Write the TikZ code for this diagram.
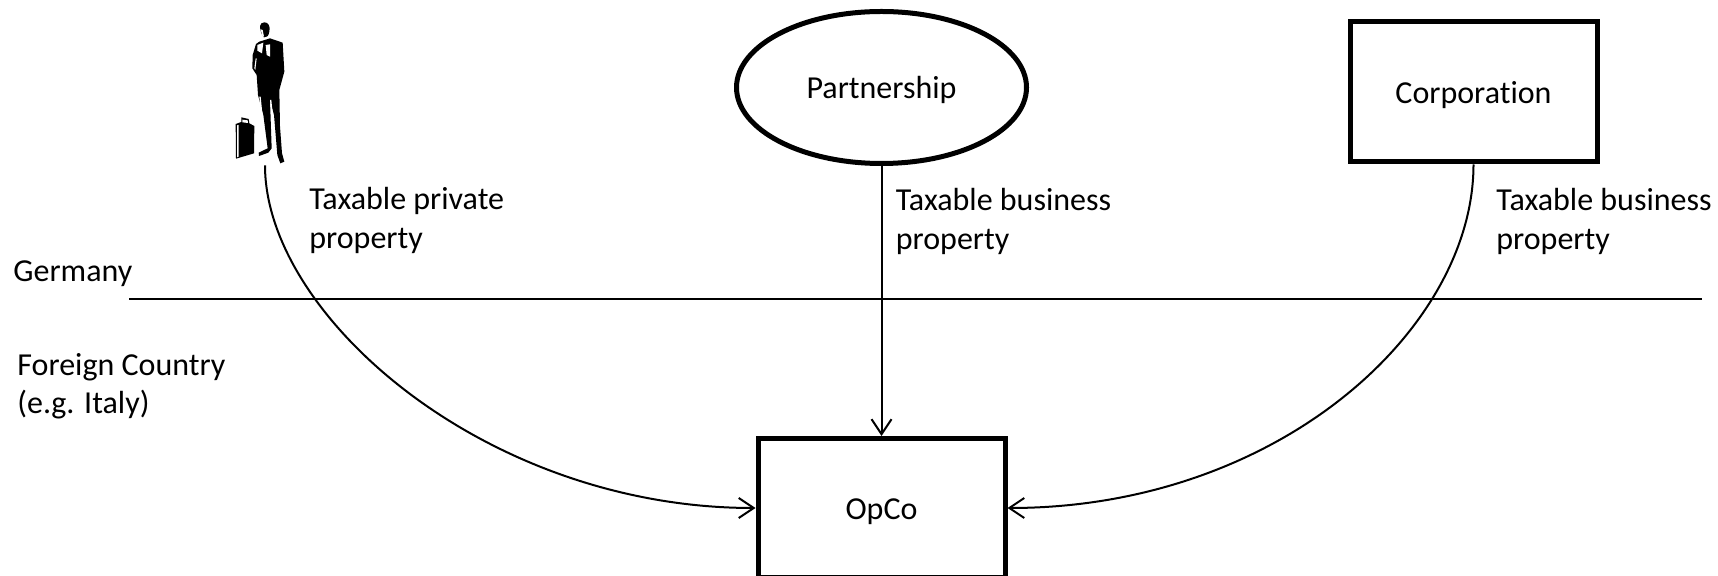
\documentclass[tikz,border=0pt]{standalone}
\usepackage{fontspec}
\setmainfont[Ligatures=NoCommon]{Carlito}
\usetikzlibrary{arrows.meta,positioning,shapes.geometric}

\begin{document}
\begin{tikzpicture}[
		x=0.5pt,
		y=-0.5pt,
		>={Straight Barb[length=7.5pt,width=10pt]},
		font=\fontsize{16}{19.2}\selectfont,
		entity/.style={
			rectangle,
			draw=black,
			line width=2.5pt,
			minimum width=123.5pt,
			minimum height=69.5pt,
			text height=15pt,
			text depth=3pt,
			inner sep=0pt
		},
		person/.style={
			minimum width=25pt,
			minimum height=72pt,
			inner sep=0pt
		},
		label/.style={
			align=left,
			anchor=west,
			inner sep=0pt
		},
		link/.style={
			line width=1pt
		}
		]
		\useasboundingbox (0,0) rectangle (1718,576);
		
		% We start by placing the blocks
		\node [entity] (opco) at (881.5,508) {OpCo};
		\node [entity, ellipse, minimum width=145pt, minimum height=76pt, text height=14pt] (partnership) at (881.5,87.5) {Partnership};
		\node [entity, minimum height=70pt] (corporation) at (1473.5,92) {Corporation};
		\node [person] (man) at (265,93) {};
		
		% the man and his case
		\begin{scope}[shift={(200,0)},x=0.16667pt,y=-0.16667pt]
			\fill (193,67) .. controls (205,66) and (212,80) .. (208,95) .. controls (206,108) and (200,114) .. (192,112) .. controls (184,108) and (180,85) .. (180,78) .. controls (180,72) and (186,67) .. (193,67) -- cycle;
			\fill (178,125) -- (210,115) -- (248,128) -- (253,215) -- (238,270) -- (240,380) -- (246,460) -- (253,485) -- (241,490) -- (232,465) -- (222,345) -- (210,300) -- (215,445) -- (205,458) -- (177,468) -- (176,458) -- (203,445) -- (190,345) -- (174,285) -- (170,225) -- (157,205) -- (158,165) -- (168,132) -- cycle;
			\fill (107,372) -- (124,366) -- (124,352) -- (146,357) -- (148,370) -- (163,378) -- (162,460) -- (108,476) -- cycle;
			\fill [white] (127,359) -- (143,361) -- (144,369) -- (127,367) -- cycle;
			\fill [white] (111,376) -- (116,375) -- (116,470) -- (111,472) -- cycle;
			\fill [white] (182,88) -- (188,90) -- (192,110) -- (187,108) -- cycle;
			\fill [white] (197,135) -- (210,133) -- (210,170) -- (200,165) -- cycle;
			\fill [white] (172,135) -- (190,128) -- (186,160) -- (172,152) -- cycle;
			\fill [white] (167,175) -- (170,175) -- (166,210) -- (163,205) -- cycle;
			\fill [white] (178,290) -- (182,290) -- (197,440) -- (192,440) -- cycle;
			\fill [white] (210,300) -- (214,300) -- (224,400) -- (220,400) -- cycle;
		\end{scope}
		
		% the border
		\coordinate (borderL) at (129,299);
		\coordinate (borderR) at (1702,299);
		\draw [link] (borderL) -- (borderR);
		
		\draw [link,->] (partnership) -- (opco);
		\draw [link,->] (man.south) .. controls +(0,150) and +(-270,0) .. (opco.west);
		\draw [link,->] (corporation.south) .. controls +(0,165) and +(270,0) .. (opco.east);
		
		\node [label] (germany) at (13,273.5) {Germany};
		\node [label] (foreign) at (17,386.5) {Foreign Country\\(e.g. Italy)};
		\node [label] (privatetext) at (309,220.5) {Taxable private\\property};
		\node [label] (businesstext) at (895.5,221.5) {Taxable business\\property};
		\node [label] (corptext) at (1496,221.5) {Taxable business\\property};
		
		\end{tikzpicture}
\end{document}
